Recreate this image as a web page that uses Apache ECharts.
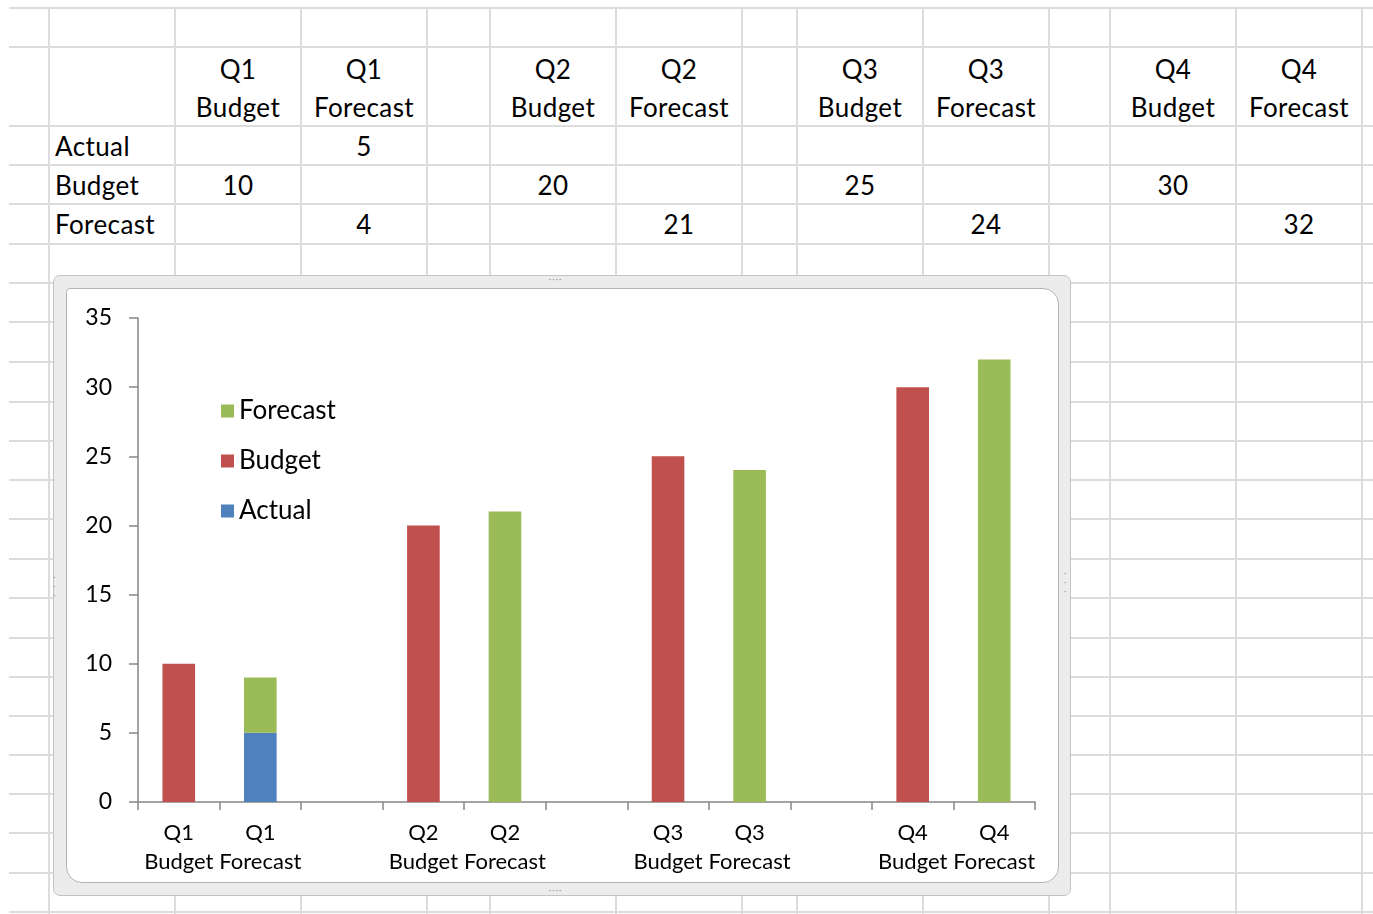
<!DOCTYPE html>
<html>
<head>
<meta charset="utf-8">
<script src="https://cdn.jsdelivr.net/npm/echarts@6/dist/echarts.min.js"></script>
<style>
  html, body { margin: 0; padding: 0; background: #fff; }
  body { width: 1373px; height: 914px; position: relative; overflow: hidden; font-family: Lato, 'Noto Sans', sans-serif; color: #000; }
  .gl { position: absolute; background: #dcdcdc; }
  .cell { position: absolute; font-size: 26px; line-height: 38px; letter-spacing: 0.4px; white-space: nowrap; }
  #frame { position: absolute; left: 53px; top: 275px; width: 1016px; height: 619px; background: #ececec; border: 1px solid #c4c4c4; border-radius: 7px; }
  #inner { position: absolute; left: 66px; top: 288px; width: 991px; height: 593px; background: #fff; border: 1px solid #b4b4b4; border-radius: 4px 16px 16px 16px; }
  #chart { position: absolute; left: 67px; top: 289px; width: 991px; height: 593px; }
  .dots { position: absolute; color: #9a9a9a; font-size: 9px; letter-spacing: 1px; line-height: 9px; }
</style>
</head>
<body>
<div id="sheet"></div>
<div id="frame"></div>
<div id="inner"></div>
<div id="chart"></div>
<div class="dots" style="left:549px;top:274px;">····</div>
<div class="dots" style="left:549px;top:885px;">····</div>
<div class="dots" style="left:53px;top:572px;width:6px;">·<br>·<br>·</div>
<div class="dots" style="left:1064px;top:568px;width:6px;">·<br>·<br>·</div>
<script>
// columns B:L of the sheet, blank columns between quarters
const quarters = ['Q1', 'Q1', '', 'Q2', 'Q2', '', 'Q3', 'Q3', '', 'Q4', 'Q4']
const kinds = ['Budget', 'Forecast', '', 'Budget', 'Forecast', '', 'Budget', 'Forecast', '', 'Budget', 'Forecast']
const rowNames = ['Actual', 'Budget', 'Forecast']
const actual = [null, 5, null, null, null, null, null, null, null, null, null]
const budget = [10, null, null, 20, null, null, 25, null, null, 30, null]
const forecast = [null, 4, null, null, 21, null, null, 24, null, null, 32]

const categories = quarters.map((q, i) => (q ? q + '\n' + kinds[i] : ''))

// spreadsheet grid
const colEdges = [49, 175, 301, 427, 490, 616, 742, 797, 923, 1049, 1110, 1236, 1362]
const rowEdges = [8, 47, 126, 165, 204, 244, 283, 322, 362, 402, 441, 480, 519, 559, 598, 638, 677, 716, 755, 794, 833, 873, 912]
const sheet = document.getElementById('sheet')
rowEdges.forEach(y => {
  const d = document.createElement('div')
  d.className = 'gl'
  d.style.cssText = `left:9px;top:${y - 1}px;width:1364px;height:2px;`
  sheet.appendChild(d)
})
colEdges.forEach(x => {
  const d = document.createElement('div')
  d.className = 'gl'
  d.style.cssText = `left:${x - 1}px;top:8px;width:2px;height:906px;`
  sheet.appendChild(d)
})
function putText(text, x0, x1, y0, y1, align) {
  const d = document.createElement('div')
  d.className = 'cell'
  d.innerHTML = text
  if (align === 'left') {
    d.style.cssText = `left:${x0 + 6}px;top:${(y0 + y1) / 2 - 19}px;`
  } else {
    d.style.cssText = `left:${x0}px;width:${x1 - x0}px;text-align:center;top:${(y0 + y1) / 2 - 19}px;`
  }
  sheet.appendChild(d)
}
quarters.forEach((q, i) => {
  if (!q) return
  const d = document.createElement('div')
  d.className = 'cell'
  d.innerHTML = q + '<br>' + kinds[i]
  d.style.cssText = `left:${colEdges[i + 1]}px;width:${colEdges[i + 2] - colEdges[i + 1]}px;text-align:center;top:50px;`
  sheet.appendChild(d)
})
const rows = [actual, budget, forecast]
rows.forEach((vals, r) => {
  putText(rowNames[r], colEdges[0], colEdges[1], rowEdges[2 + r], rowEdges[3 + r], 'left')
  vals.forEach((v, i) => {
    if (v == null) return
    putText(String(v), colEdges[i + 1], colEdges[i + 2], rowEdges[2 + r], rowEdges[3 + r], 'center')
  })
})

const font = 'Lato'
const myChart = echarts.init(document.getElementById('chart'))
myChart.setOption({
  animation: false,
  textStyle: { fontFamily: font },
  grid: { left: 71, top: 29, right: 23, bottom: 80 },
  legend: {
    orient: 'vertical',
    left: 149,
    top: 104,
    data: ['Forecast', 'Budget', 'Actual'],
    itemWidth: 13,
    itemHeight: 13,
    itemGap: 24,
    icon: 'rect',
    selectedMode: false,
    textStyle: { fontSize: 26, color: '#000', fontFamily: font, lineHeight: 26 },
  },
  xAxis: {
    type: 'category',
    data: categories,
    axisLine: { lineStyle: { color: '#868686', width: 1.5 } },
    axisTick: { show: true, length: 8, lineStyle: { color: '#868686', width: 1.5 } },
    axisLabel: { interval: 0, fontSize: 22, color: '#000', lineHeight: 29, margin: 16, fontFamily: font },
  },
  yAxis: {
    type: 'value',
    min: 0,
    max: 35,
    interval: 5,
    splitLine: { show: false },
    axisLine: { show: true, lineStyle: { color: '#868686', width: 1.5 } },
    axisTick: { show: true, length: 9, lineStyle: { color: '#868686', width: 1.5 } },
    axisLabel: { fontSize: 23, color: '#000', margin: 26, fontFamily: font },
  },
  series: [
    { name: 'Actual', type: 'bar', stack: 'all', data: actual, barWidth: '40%', itemStyle: { color: '#4F81BD' } },
    { name: 'Budget', type: 'bar', stack: 'all', data: budget, barWidth: '40%', itemStyle: { color: '#C0504D' } },
    { name: 'Forecast', type: 'bar', stack: 'all', data: forecast, barWidth: '40%', itemStyle: { color: '#9BBB59' } },
  ],
})
</script>
</body>
</html>
